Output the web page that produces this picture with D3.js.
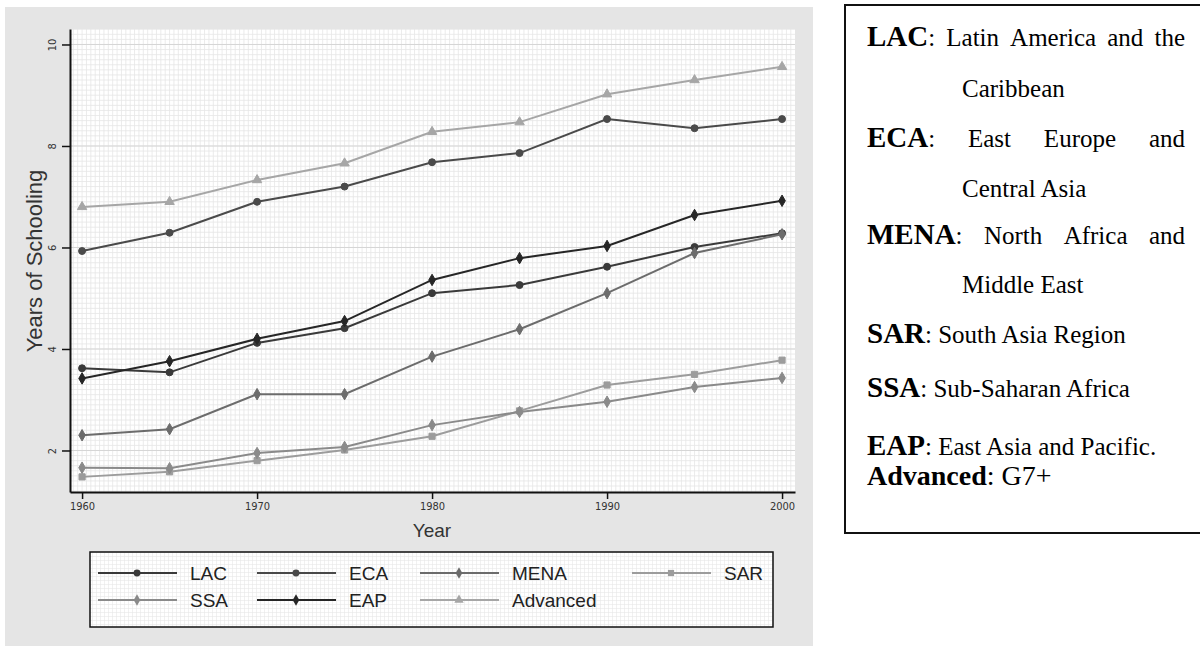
<!DOCTYPE html>
<html>
<head>
<meta charset="utf-8">
<script src="https://cdn.jsdelivr.net/npm/d3@7"></script>
<style>
  body { margin: 0; background: #fff; }
  svg { display: block; }
</style>
</head>
<body>
<svg width="1200" height="653"></svg>
<script>
const years = [1960, 1965, 1970, 1975, 1980, 1985, 1990, 1995, 2000];
const names = ["LAC", "ECA", "MENA", "SAR", "SSA", "EAP", "Advanced"];
const lac = [3.62, 3.54, 4.12, 4.41, 5.10, 5.26, 5.62, 6.01, 6.28];
const eca = [5.93, 6.29, 6.90, 7.20, 7.68, 7.86, 8.53, 8.35, 8.53];
const mena = [2.30, 2.42, 3.11, 3.11, 3.85, 4.39, 5.10, 5.89, 6.26];
const sar = [1.48, 1.58, 1.80, 2.01, 2.28, 2.78, 3.29, 3.50, 3.78];
const ssa = [1.66, 1.65, 1.95, 2.07, 2.50, 2.76, 2.96, 3.25, 3.43];
const eap = [3.42, 3.76, 4.20, 4.55, 5.36, 5.79, 6.03, 6.64, 6.92];
const advanced = [6.80, 6.90, 7.33, 7.66, 8.28, 8.47, 9.02, 9.30, 9.56];
const xTicks = [1960, 1970, 1980, 1990, 2000];
const yTicks = [2, 4, 6, 8, 10];

const colors = ["#3a3a3a", "#4a4a4a", "#6c6c6c", "#9c9c9c", "#8a8a8a", "#262626", "#a6a6a6"];
const shapes = [d3.symbolCircle, d3.symbolCircle, d3.symbolDiamond, d3.symbolSquare,
                d3.symbolDiamond, d3.symbolDiamond, d3.symbolTriangle];
const values = [lac, eca, mena, sar, ssa, eap, advanced];
const series = names.map((n, i) => ({ name: n, color: colors[i], shape: shapes[i],
  pts: years.map((yr, j) => [yr, values[i][j]]) }));

const svg = d3.select("svg");
const defs = svg.append("defs");
defs.append("pattern").attr("id", "fine")
  .attr("width", 4).attr("height", 4).attr("patternUnits", "userSpaceOnUse")
  .append("path").attr("d", "M4 0 L0 0 0 4")
  .attr("fill", "none").attr("stroke", "#e4e4e4").attr("stroke-width", 1);

// left panel
svg.append("rect").attr("x", 5).attr("y", 7).attr("width", 808).attr("height", 639)
  .attr("fill", "#e5e5e5");

const pLeft = 70, pRight = 795, pTop = 29, pBottom = 492;
const x = d3.scaleLinear().domain([1959.31, 2000.74]).range([pLeft, pRight]);
const y = d3.scaleLinear().domain([1.182, 10.305]).range([pBottom, pTop]);

svg.append("rect").attr("x", pLeft).attr("y", pTop)
  .attr("width", pRight - pLeft).attr("height", pBottom - pTop).attr("fill", "#fff");

// fine grid
const grid = svg.append("g").attr("stroke", "#e6e6e6").attr("stroke-width", 0.8);
grid.selectAll(".vx").data(d3.range(1959.5, 2000.75, 0.25)).join("line")
  .attr("x1", d => x(d)).attr("x2", d => x(d)).attr("y1", pTop).attr("y2", pBottom);
grid.selectAll(".hy").data(d3.range(1.2, 10.3, 0.1)).join("line")
  .attr("y1", d => y(d)).attr("y2", d => y(d)).attr("x1", pLeft).attr("x2", pRight);
svg.append("g").selectAll("line").data(yTicks).join("line")
  .attr("y1", d => y(d)).attr("y2", d => y(d)).attr("x1", pLeft).attr("x2", pRight)
  .attr("stroke", "#d6d6d6").attr("stroke-width", 1.2);

// lines
const line = d3.line().x(d => x(d[0])).y(d => y(d[1]));
const sg = svg.append("g").selectAll("g").data(series).join("g");
sg.append("path").attr("d", d => line(d.pts))
  .attr("fill", "none").attr("stroke", d => d.color).attr("stroke-width", 2);
sg.each(function (s) {
  d3.select(this).selectAll("path.m").data(s.pts).join("path")
    .attr("class", "m")
    .attr("transform", d => `translate(${x(d[0])},${y(d[1])})`)
    .attr("d", d3.symbol().type(s.shape).size(38))
    .attr("fill", s.color).attr("stroke", s.color).attr("stroke-width", 1);
});

// axes
const ax = svg.append("g").attr("transform", `translate(0,${pBottom})`)
  .call(d3.axisBottom(x).tickValues(xTicks).tickFormat(d3.format("d")).tickSize(7).tickSizeOuter(0));
ax.select(".domain").attr("stroke", "#111").attr("stroke-width", 2);
ax.selectAll(".tick line").attr("stroke", "#111").attr("stroke-width", 1.5);
ax.selectAll("text").attr("font-family", "DejaVu Sans Condensed").attr("font-size", 11)
  .attr("fill", "#333").attr("y", 10);

const ay = svg.append("g").attr("transform", `translate(${pLeft},0)`)
  .call(d3.axisLeft(y).tickValues(yTicks).tickSize(8).tickSizeOuter(0));
ay.select(".domain").attr("stroke", "#111").attr("stroke-width", 2);
ay.selectAll(".tick line").attr("stroke", "#111").attr("stroke-width", 1.5);
ay.selectAll("text").attr("font-family", "DejaVu Sans Condensed").attr("font-size", 11)
  .attr("fill", "#333").attr("x", 0).attr("dy", 0).attr("text-anchor", "middle")
  .attr("transform", "translate(-14,0) rotate(-90)");

svg.append("text").attr("transform", "translate(42,261) rotate(-90)")
  .attr("text-anchor", "middle").attr("font-family", "Liberation Sans")
  .attr("font-size", 22).attr("fill", "#333").text("Years of Schooling");
svg.append("text").attr("x", 432).attr("y", 537).attr("text-anchor", "middle")
  .attr("font-family", "Liberation Sans").attr("font-size", 19).attr("fill", "#333").text("Year");

// legend
svg.append("rect").attr("x", 90).attr("y", 552).attr("width", 683).attr("height", 75)
  .attr("fill", "#fff");
svg.append("rect").attr("x", 90).attr("y", 552).attr("width", 683).attr("height", 75)
  .attr("fill", "url(#fine)").attr("stroke", "#111").attr("stroke-width", 1.5);
const colX = [98, 257, 420, 632];
const lg = svg.append("g").selectAll("g").data(series).join("g")
  .attr("transform", (d, i) => `translate(${colX[i % 4]},${i < 4 ? 573 : 600})`);
lg.append("line").attr("x1", 0).attr("x2", 79).attr("stroke", d => d.color).attr("stroke-width", 2);
lg.append("path").attr("transform", "translate(39,0)")
  .attr("d", d => d3.symbol().type(d.shape).size(38)())
  .attr("fill", d => d.color);
lg.append("text").attr("x", 92).attr("dy", "0.36em")
  .attr("font-family", "Liberation Sans").attr("font-size", 19).attr("fill", "#222")
  .text(d => d.name);

// definitions box
svg.append("rect").attr("x", 845).attr("y", 5).attr("width", 400).attr("height", 528)
  .attr("fill", "#fff").attr("stroke", "#111").attr("stroke-width", 2);

const serif = "Liberation Serif";
const box = svg.append("g").attr("font-family", serif).attr("fill", "#000");

function addToken(tok, yb) {
  const t = box.append("text").attr("y", yb);
  if (tok.b) t.append("tspan").attr("font-weight", "bold").attr("font-size", tok.bs || 29).text(tok.b);
  if (tok.r) t.append("tspan").attr("font-size", tok.rs || 25).text(tok.r);
  return t;
}
function plainLine(tokens, x0, yb) {
  let cx = x0;
  tokens.forEach(tok => {
    const t = addToken(tok, yb).attr("x", cx);
    cx += t.node().getComputedTextLength();
  });
}
function justLine(tokens, x0, x1, yb) {
  const ts = tokens.map(tok => addToken(tok, yb));
  const w = ts.map(t => t.node().getComputedTextLength());
  const gap = (x1 - x0 - d3.sum(w)) / (ts.length - 1);
  let cx = x0;
  ts.forEach((t, i) => { t.attr("x", cx); cx += w[i] + gap; });
}

justLine([{ b: "LAC", r: ":" }, { r: "Latin" }, { r: "America" }, { r: "and" }, { r: "the" }], 867, 1185, 46);
plainLine([{ r: "Caribbean" }], 962, 97);
justLine([{ b: "ECA", r: ":" }, { r: "East" }, { r: "Europe" }, { r: "and" }], 867, 1185, 147);
plainLine([{ r: "Central Asia" }], 962, 197);
justLine([{ b: "MENA", r: ":" }, { r: "North" }, { r: "Africa" }, { r: "and" }], 867, 1185, 244);
plainLine([{ r: "Middle East" }], 962, 293);
plainLine([{ b: "SAR", r: ": South Asia Region" }], 867, 343);
plainLine([{ b: "SSA", r: ": Sub-Saharan Africa" }], 867, 397);
plainLine([{ b: "EAP", r: ": East Asia and Pacific." }], 867, 455);
plainLine([{ b: "Advanced", bs: 28, r: ": G7+", rs: 28 }], 867, 485);
</script>
</body>
</html>
